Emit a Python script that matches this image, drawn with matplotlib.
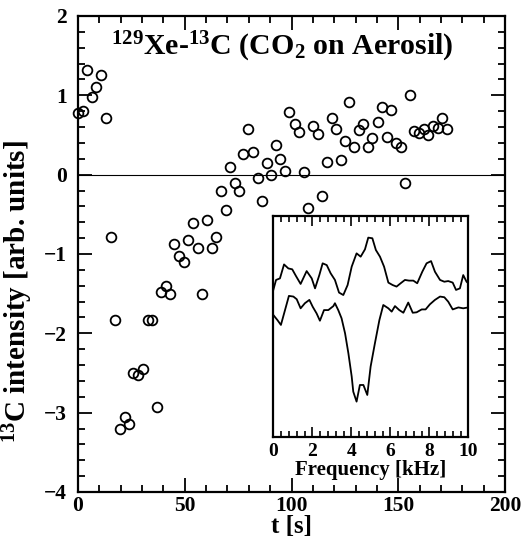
import matplotlib
matplotlib.use("Agg")
import matplotlib.pyplot as plt
from matplotlib.ticker import MultipleLocator

plt.rcParams['font.family'] = ['Liberation Serif', 'DejaVu Serif']
plt.rcParams['font.weight'] = 'bold'
plt.rcParams['mathtext.fontset'] = 'custom'
plt.rcParams['mathtext.rm'] = 'Liberation Serif:bold'
plt.rcParams['mathtext.it'] = 'Liberation Serif:bold'
plt.rcParams['mathtext.bf'] = 'Liberation Serif:bold'
plt.rcParams['mathtext.default'] = 'rm'

# ---- main data: 13C intensity vs time ----
t_s = [0.2, 2.5, 4.0, 6.4, 8.4, 10.8, 13.0, 15.3, 17.3, 19.7, 22.0, 24.0, 25.9, 28.3,
       30.6, 32.9, 34.5, 36.9, 38.9, 41.1, 43.2, 45.1, 47.4, 49.5, 51.7, 53.9, 56.1,
       58.2, 60.3, 62.6, 64.4, 66.8, 69.2, 71.2, 73.5, 75.4, 77.4, 79.6, 81.8, 84.2,
       86.3, 88.4, 90.5, 92.7, 94.8, 97.1, 99.0, 101.5, 103.5, 105.7, 107.9, 110.1,
       112.3, 114.4, 116.5, 118.8, 120.8, 123.0, 125.1, 127.1, 129.3, 131.5, 133.6,
       136.0, 137.9, 140.4, 142.2, 144.6, 146.6, 148.8, 151.1, 153.3, 155.3, 157.4,
       159.7, 162.1, 164.1, 166.4, 168.5, 170.6, 172.7]
c13_intensity = [0.78, 0.80, 1.32, 0.98, 1.10, 1.26, 0.71, -0.79, -1.83, -3.21, -3.06,
                 -3.14, -2.50, -2.52, -2.45, -1.83, -1.83, -2.93, -1.48, -1.40, -1.51,
                 -0.88, -1.03, -1.10, -0.82, -0.61, -0.92, -1.50, -0.57, -0.92, -0.78,
                 -0.20, -0.45, 0.10, -0.10, -0.21, 0.26, 0.58, 0.28, -0.04, -0.33, 0.15,
                 0.00, 0.37, 0.20, 0.05, 0.79, 0.64, 0.54, 0.03, -0.42, 0.61, 0.51, -0.27,
                 0.16, 0.72, 0.57, 0.19, 0.43, 0.91, 0.35, 0.56, 0.64, 0.35, 0.46, 0.66,
                 0.85, 0.48, 0.82, 0.40, 0.35, -0.10, 1.00, 0.55, 0.52, 0.57, 0.50, 0.61,
                 0.59, 0.71, 0.58]

x_ticks = [0, 50, 100, 150, 200]
y_ticks = [-4, -3, -2, -1, 0, 1, 2]

# ---- inset spectra ----
freq_upper = [0.00, 0.14, 0.34, 0.55, 0.77, 0.97, 1.16, 1.40, 1.71, 1.97, 2.14, 2.36,
              2.53, 2.74, 2.94, 3.16, 3.37, 3.59, 3.81, 4.02, 4.27, 4.48, 4.70, 4.87,
              5.08, 5.26, 5.47, 5.68, 5.90, 6.12, 6.32, 6.53, 6.75, 6.96, 7.18, 7.38,
              7.64, 7.86, 8.09, 8.29, 8.55, 8.77, 8.97, 9.20, 9.37, 9.57, 9.74, 9.91, 10.0]
spec_upper = [0.665, 0.710, 0.717, 0.780, 0.762, 0.758, 0.728, 0.692, 0.750, 0.717,
              0.672, 0.732, 0.785, 0.777, 0.740, 0.710, 0.653, 0.642, 0.687, 0.770,
              0.830, 0.815, 0.848, 0.901, 0.898, 0.845, 0.815, 0.770, 0.698, 0.687,
              0.680, 0.695, 0.710, 0.707, 0.707, 0.695, 0.747, 0.785, 0.795, 0.747,
              0.710, 0.702, 0.705, 0.698, 0.665, 0.672, 0.732, 0.702, 0.695]
freq_lower = [0.00, 0.21, 0.39, 0.60, 0.80, 1.03, 1.20, 1.40, 1.62, 1.85, 2.02, 2.22,
              2.39, 2.60, 2.82, 3.08, 3.16, 3.33, 3.50, 3.68, 3.85, 4.02, 4.10, 4.27,
              4.44, 4.62, 4.82, 4.99, 5.21, 5.44, 5.64, 5.90, 6.07, 6.24, 6.46, 6.67,
              6.92, 7.15, 7.35, 7.61, 7.81, 8.03, 8.29, 8.55, 8.77, 8.97, 9.20, 9.49,
              9.74, 10.0]
spec_lower = [0.552, 0.529, 0.507, 0.574, 0.638, 0.635, 0.623, 0.582, 0.605, 0.620,
              0.589, 0.559, 0.526, 0.574, 0.574, 0.592, 0.605, 0.574, 0.537, 0.469,
              0.379, 0.274, 0.206, 0.161, 0.236, 0.236, 0.191, 0.319, 0.424, 0.529,
              0.597, 0.582, 0.567, 0.592, 0.574, 0.562, 0.608, 0.562, 0.564, 0.577,
              0.577, 0.600, 0.620, 0.635, 0.632, 0.612, 0.577, 0.586, 0.582, 0.586]
inset_ticks = [0, 2, 4, 6, 8, 10]

fig = plt.figure(figsize=(5.25, 5.4), dpi=100)
ax = fig.add_axes([0.1486, 0.0889, 0.8133, 0.8815])

ax.axhline(0, color='black', lw=0.8, zorder=1)
ax.plot(t_s, c13_intensity, linestyle='none', marker='o', markersize=7,
        markerfacecolor='none', markeredgecolor='black', markeredgewidth=1.3,
        clip_on=False, zorder=3)

ax.set_xlim(0, 200)
ax.set_ylim(-4, 2)
ax.set_xticks(x_ticks)
ax.set_yticks(y_ticks)
ax.xaxis.set_minor_locator(MultipleLocator(10))
ax.yaxis.set_minor_locator(MultipleLocator(0.2))
ax.tick_params(which='both', direction='in', top=True, right=True, width=1.3,
               labelsize=15.5)
ax.tick_params(which='major', length=10)
ax.tick_params(which='minor', length=5)
ax.tick_params(axis='x', pad=3)
ax.tick_params(axis='y', pad=8)
for s in ax.spines.values():
    s.set_linewidth(1.6)
for lbl in ax.get_xticklabels() + ax.get_yticklabels():
    lbl.set_fontweight('bold')

ax.set_xlabel('t [s]', fontsize=18, fontweight='bold', va='center')
ax.xaxis.set_label_coords(0.50, -0.073)
ax.set_ylabel(r'$^{13}$C intensity [arb. units]', fontsize=21, fontweight='bold')
ax.yaxis.set_label_coords(-0.10, 0.42)

ax.text(0.478, 0.918, r'$^{129}$Xe-$^{13}$C (CO$_2$ on Aerosil)', transform=ax.transAxes,
        ha='center', va='baseline', fontsize=21.5, fontweight='bold')

# inset
ax2 = fig.add_axes([0.5206, 0.1902, 0.3714, 0.4104])
ax2.plot(freq_upper, spec_upper, color='black', lw=1.3)
ax2.plot(freq_lower, spec_lower, color='black', lw=1.3)
ax2.set_xlim(0, 10)
ax2.set_ylim(0, 1)
ax2.set_xticks(inset_ticks)
ax2.xaxis.set_minor_locator(MultipleLocator(0.4))
ax2.set_yticks([])
ax2.tick_params(which='both', direction='in', top=True, width=1.2, labelsize=14, pad=4)
ax2.tick_params(which='major', length=7)
ax2.tick_params(which='minor', length=4)
for s in ax2.spines.values():
    s.set_linewidth(1.6)
for lbl in ax2.get_xticklabels():
    lbl.set_fontweight('bold')
ax2.set_xlabel('Frequency [kHz]', fontsize=15, fontweight='bold', labelpad=0)

fig.savefig('out.png', dpi=100)
